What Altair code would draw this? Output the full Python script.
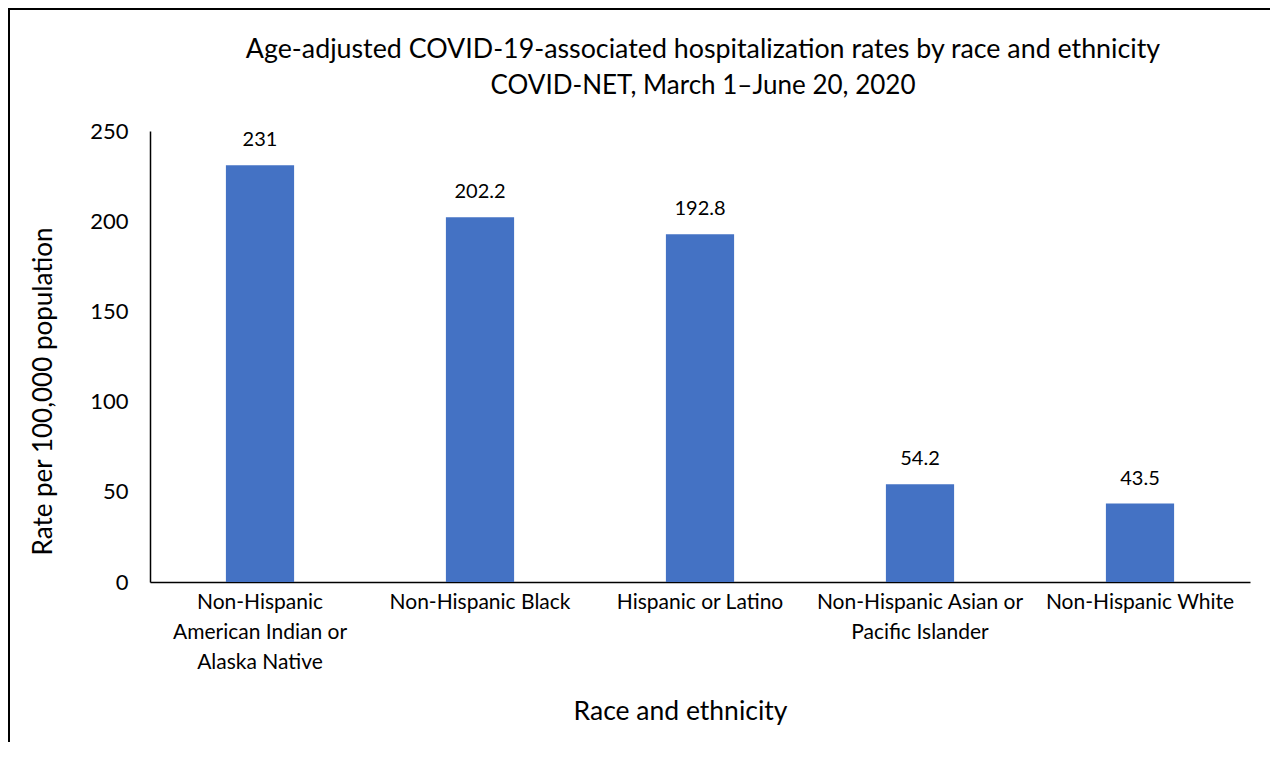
import altair as alt
import pandas as pd

categories = [
    "Non-Hispanic American Indian or Alaska Native",
    "Non-Hispanic Black",
    "Hispanic or Latino",
    "Non-Hispanic Asian or Pacific Islander",
    "Non-Hispanic White",
]
label_lines = [
    ["Non-Hispanic", "American Indian or", "Alaska Native"],
    ["Non-Hispanic Black"],
    ["Hispanic or Latino"],
    ["Non-Hispanic Asian or", "Pacific Islander"],
    ["Non-Hispanic White"],
]
rates = [231, 202.2, 192.8, 54.2, 43.5]
rate_text = ["231", "202.2", "192.8", "54.2", "43.5"]
y_ticks = [0, 50, 100, 150, 200, 250]
title_lines = [
    "Age-adjusted COVID-19-associated hospitalization rates by race and ethnicity",
    "COVID-NET, March 1\u2013June 20, 2020",
]

df = pd.DataFrame({"group": categories, "rate": rates, "txt": rate_text})

FONT = "Lato"
label_expr = " : ".join(
    f"datum.label == '{c}' ? {lines!r}" for c, lines in zip(categories, label_lines)
) + " : datum.label"

x_enc = alt.X(
    "group:N",
    sort=categories,
    scale=alt.Scale(paddingInner=0.69, paddingOuter=0.345),
    axis=alt.Axis(
        title="Race and ethnicity",
        labelAngle=0,
        labelExpr=label_expr,
        labelFont=FONT,
        labelFontSize=21,
        labelColor="black",
        labelLineHeight=30,
        labelPadding=20,
        labelBaseline="middle",
        labelLimit=0,
        ticks=False,
        domainColor="black",
        domainWidth=1.5,
        titleFont=FONT,
        titleFontSize=26.5,
        titleFontWeight="normal",
        titleColor="black",
        titleX=530,
        titleY=129,
        titleBaseline="middle",
        titleAlign="center",
        titleAnchor="start",
    ),
)
y_enc = alt.Y(
    "rate:Q",
    scale=alt.Scale(domain=[0, 250], nice=False),
    axis=alt.Axis(
        title="Rate per 100,000 population",
        values=y_ticks,
        grid=False,
        ticks=False,
        labelFont=FONT,
        labelFontSize=22,
        labelColor="black",
        labelPadding=22,
        domainColor="black",
        domainWidth=1.5,
        titleFont=FONT,
        titleFontSize=26,
        titleFontWeight="normal",
        titleColor="black",
        titleX=-107,
        titleY=260,
        titleAngle=-90,
        titleBaseline="middle",
        titleAlign="center",
        titleAnchor="start",
    ),
)

base = alt.Chart(df)
bars = base.mark_bar(color="#4472C4").encode(x=x_enc, y=y_enc)
texts = base.mark_text(
    dy=-25, font=FONT, fontSize=20, color="black", baseline="middle"
).encode(x=alt.X("group:N", sort=categories), y="rate:Q", text="txt:N")

title1 = alt.Chart(pd.DataFrame({"t": [title_lines[0]]})).mark_text(
    font=FONT, fontSize=26.8, color="black", baseline="middle", align="center"
).encode(x=alt.value(553), y=alt.value(-81), text="t:N")
title2 = alt.Chart(pd.DataFrame({"t": [title_lines[1]]})).mark_text(
    font=FONT, fontSize=26, color="black", baseline="middle", align="center"
).encode(x=alt.value(553), y=alt.value(-45), text="t:N")

border = alt.Chart(pd.DataFrame({"a": [0]})).mark_rect(
    fill=None, stroke="black", strokeWidth=2
).encode(
    x=alt.value(-141), x2=alt.value(1300), y=alt.value(-122), y2=alt.value(800)
)

chart = alt.layer(bars, texts, title1, title2, border).properties(
    width=1100,
    height=451,
    autosize=alt.AutoSizeParams(type="none"),
    padding={"left": 142, "top": 123, "right": 20, "bottom": 160},
).configure_view(stroke=None)

chart.save("out.html", embed_options={"renderer": "svg", "actions": False})
